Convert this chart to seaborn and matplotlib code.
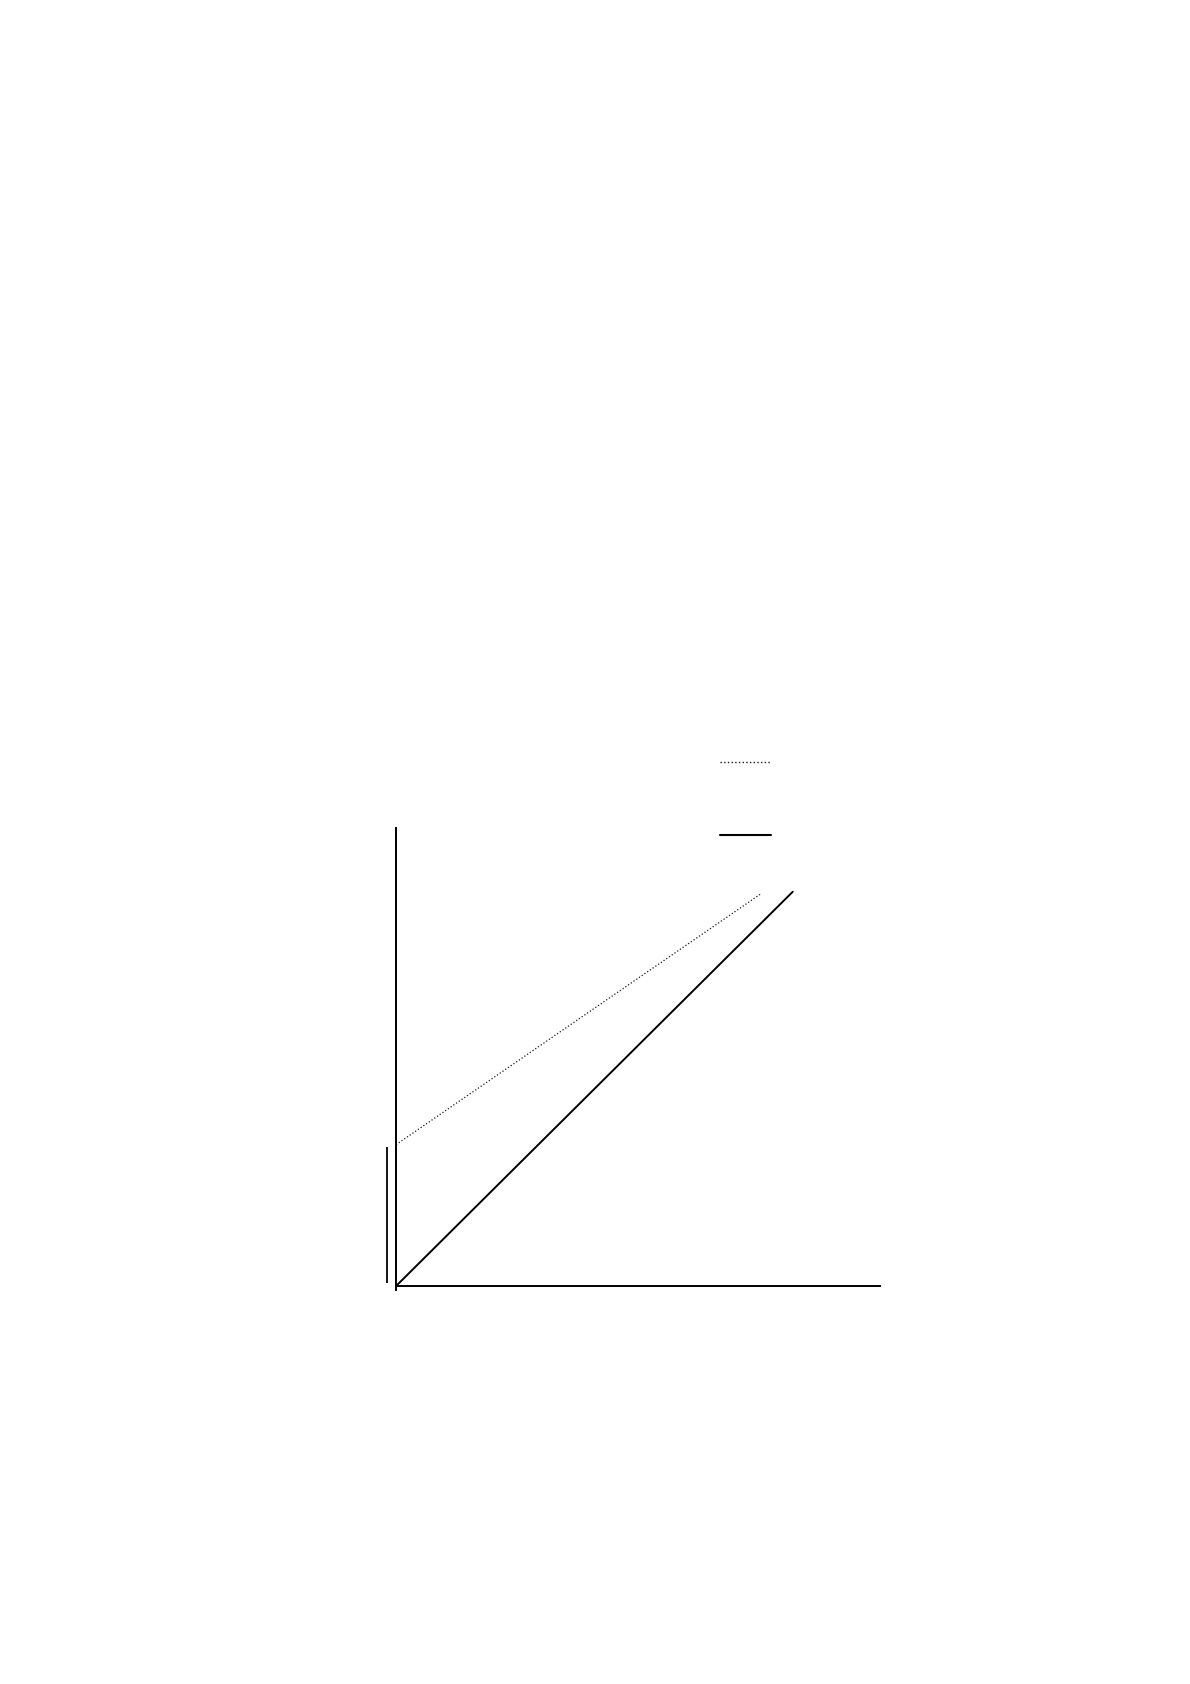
import numpy as np
import matplotlib
matplotlib.use("Agg")
import matplotlib.pyplot as plt
import seaborn as sns

sns.set_style("white")

# values in chart units (x axis runs 0..12.2, y axis 0..11.5)
x_limits = [0, 12.2]
y_limits = [0, 11.5]

solid_x = [0.0, 10.0]
solid_y = [0.0, 9.9]

dotted_x = [0.0, 9.2]
dotted_y = [3.55, 9.85]

# short bar beside the y axis, from the origin up to the dotted intercept
bar_x = -0.23
bar_y = [0.08, 3.5]

# key samples above the plot (no text in the picture)
key_x = [8.17, 9.45]
key_dotted_y = 13.16
key_solid_y = 11.32

fig = plt.figure(figsize=(11.9, 16.84), dpi=100)
ax = fig.add_axes([0.3328, 0.2363, 0.4067, 0.2720])

sns.lineplot(x=solid_x, y=solid_y, ax=ax, color="black", linewidth=1.4)
sns.lineplot(x=dotted_x, y=dotted_y, ax=ax, color="#1a1a1a",
             linewidth=0.9, linestyle=":")

ax.vlines(bar_x, bar_y[0], bar_y[1], color="black", linewidth=1.3, clip_on=False)

ax.plot(key_x, [key_dotted_y] * 2, color="#1a1a1a", linewidth=1.0,
        linestyle=":", clip_on=False)
ax.plot(key_x, [key_solid_y] * 2, color="black", linewidth=1.5, clip_on=False)

ax.set_xlim(x_limits)
ax.set_ylim(y_limits)
ax.set_xticks([])
ax.set_yticks([])
for side in ["top", "right"]:
    ax.spines[side].set_visible(False)
for side in ["left", "bottom"]:
    ax.spines[side].set_color("black")
    ax.spines[side].set_linewidth(1.4)
# the y axis runs a little past the x axis
ax.spines["left"].set_bounds(-0.1, y_limits[1])

fig.savefig("out.png", dpi=100, facecolor="white")
plt.close(fig)
